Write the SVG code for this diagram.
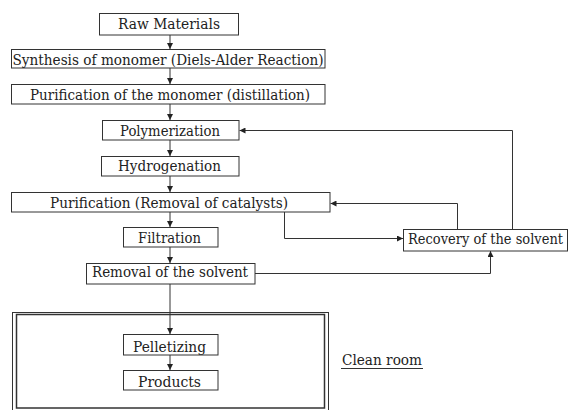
<svg xmlns="http://www.w3.org/2000/svg" width="568" height="410" viewBox="0 0 568 410">
<style>
.box{fill:#fff;stroke:#333;stroke-width:1}
.t{font-family:"DejaVu Serif","Liberation Serif",serif;font-size:15px;fill:#222;text-anchor:middle}
.ln{fill:none;stroke:#333;stroke-width:1}
</style>
<defs>
<marker id="ah" viewBox="0 0 10 10" refX="10" refY="5" markerWidth="6" markerHeight="6" markerUnits="userSpaceOnUse" orient="auto">
<path d="M0,0 L10,5 L0,10 Z" fill="#222"/>
</marker>
</defs>
<rect width="568" height="410" fill="#fff"/>
<g id="cleanroom">
<rect x="12.5" y="312.5" width="316" height="100" fill="none" stroke="#333" stroke-width="1"/>
<rect x="16.5" y="314.5" width="308" height="93.5" fill="none" stroke="#333" stroke-width="1.5"/>
<text class="t" x="382" y="365" textLength="80" lengthAdjust="spacingAndGlyphs">Clean room</text>
<line x1="341" y1="368.5" x2="423" y2="368.5" stroke="#333" stroke-width="1"/>
</g>
<g id="connectors">
<line class="ln" x1="170" y1="35" x2="170" y2="49" marker-end="url(#ah)"/>
<line class="ln" x1="170" y1="68" x2="170" y2="84" marker-end="url(#ah)"/>
<line class="ln" x1="170" y1="104" x2="170" y2="120" marker-end="url(#ah)"/>
<line class="ln" x1="170" y1="140" x2="170" y2="156" marker-end="url(#ah)"/>
<line class="ln" x1="170" y1="176" x2="170" y2="192" marker-end="url(#ah)"/>
<line class="ln" x1="170" y1="212" x2="170" y2="227" marker-end="url(#ah)"/>
<line class="ln" x1="170" y1="247" x2="170" y2="263" marker-end="url(#ah)"/>
<line class="ln" x1="170" y1="284" x2="170" y2="334" marker-end="url(#ah)"/>
<line class="ln" x1="170" y1="355" x2="170" y2="370" marker-end="url(#ah)"/>
<polyline class="ln" points="512.5,229 512.5,130.5 239.5,130.5" marker-end="url(#ah)"/>
<polyline class="ln" points="457.5,229 457.5,203.5 330.5,203.5" marker-end="url(#ah)"/>
<polyline class="ln" points="284.5,212 284.5,238.5 403,238.5" marker-end="url(#ah)"/>
<polyline class="ln" points="255,273.5 490.5,273.5 490.5,251" marker-end="url(#ah)"/>
</g>
<g id="raw"><rect class="box" x="99.5" y="13.5" width="139" height="21.5"/><text class="t" x="169" y="28.5" textLength="102" lengthAdjust="spacingAndGlyphs">Raw  Materials</text></g>
<g id="synthesis"><rect class="box" x="11.5" y="49.5" width="313.5" height="18.5"/><text class="t" x="168" y="64.5" textLength="311" lengthAdjust="spacingAndGlyphs">Synthesis of monomer (Diels-Alder Reaction)</text></g>
<g id="purif-monomer"><rect class="box" x="11.5" y="84.5" width="313.5" height="19.5"/><text class="t" x="170" y="100" textLength="280" lengthAdjust="spacingAndGlyphs">Purification of the monomer (distillation)</text></g>
<g id="polymerization"><rect class="box" x="102.5" y="120.5" width="136.5" height="19.5"/><text class="t" x="170" y="135.5" textLength="100" lengthAdjust="spacingAndGlyphs">Polymerization</text></g>
<g id="hydrogenation"><rect class="box" x="101.5" y="156.5" width="137.5" height="19.5"/><text class="t" x="169.5" y="171" textLength="103" lengthAdjust="spacingAndGlyphs">Hydrogenation</text></g>
<g id="purif-catalysts"><rect class="box" x="11.5" y="192.5" width="318.5" height="19.5"/><text class="t" x="169" y="207.8" textLength="238" lengthAdjust="spacingAndGlyphs">Purification  (Removal of catalysts)</text></g>
<g id="filtration"><rect class="box" x="123.5" y="227.5" width="94.5" height="19.5"/><text class="t" x="169.5" y="242.7" textLength="63" lengthAdjust="spacingAndGlyphs">Filtration</text></g>
<g id="removal"><rect class="box" x="86.5" y="263.5" width="168.5" height="20.5"/><text class="t" x="170" y="277" textLength="156" lengthAdjust="spacingAndGlyphs">Removal of the solvent</text></g>
<g id="recovery"><rect class="box" x="403.5" y="229.5" width="164" height="21.5"/><text class="t" transform="translate(485.5,244.3) scale(1,1.25)" x="0" y="0" style="font-size:12px" textLength="155" lengthAdjust="spacingAndGlyphs">Recovery of the solvent</text></g>
<g id="pelletizing"><rect class="box" x="123.5" y="334.5" width="94.5" height="20.5"/><text class="t" x="169.5" y="351.5" textLength="73" lengthAdjust="spacingAndGlyphs">Pelletizing</text></g>
<g id="products"><rect class="box" x="123.5" y="370.5" width="94.5" height="19.5"/><text class="t" x="169.5" y="386.7" textLength="63" lengthAdjust="spacingAndGlyphs">Products</text></g>
</svg>
